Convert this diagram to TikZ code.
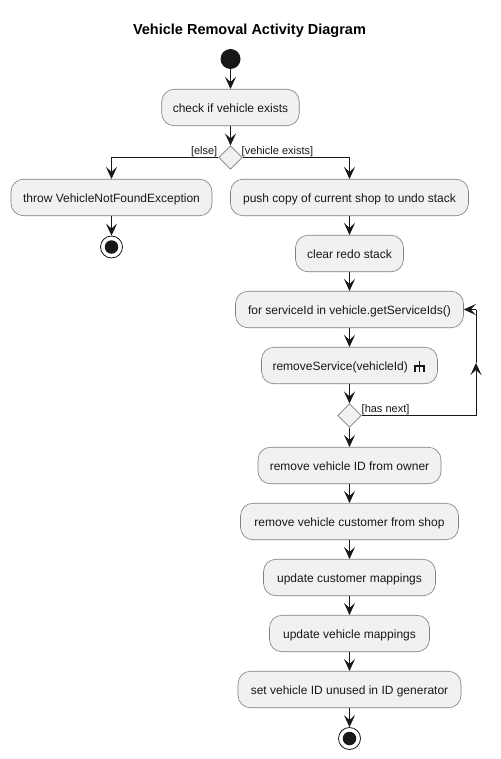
\documentclass[tikz,border=0pt]{standalone}
\usepackage{fontspec}
\setmainfont{Liberation Sans}
\usetikzlibrary{arrows.meta,shapes.geometric}
\definecolor{ink}{HTML}{181818}
\definecolor{boxfill}{HTML}{F1F1F1}
\definecolor{boxline}{HTML}{7F7F7F}
\tikzset{
  actbox/.style={draw=boxline,fill=boxfill,rounded corners=12.5pt,line width=0.6pt,minimum height=36.5pt,inner sep=0pt,text=ink,font=\fontsize{12}{14}\selectfont,text height=11pt,text depth=1.5pt},
  decbox/.style={diamond,draw=boxline,fill=boxfill,line width=0.6pt,minimum width=23.5pt,minimum height=23.5pt,inner sep=0pt},
  startdot/.style={circle,fill=ink,minimum size=20pt,inner sep=0pt},
  stopring/.style={circle,draw=ink,fill=white,line width=0.8pt,minimum size=22pt,inner sep=0pt},
  stopdot/.style={circle,fill=ink,minimum size=13.5pt,inner sep=0pt},
  flow/.style={draw=ink,line width=0.9pt,-{Stealth[length=12pt,width=11pt,inset=5pt]}},
  plainflow/.style={draw=ink,line width=0.9pt},
  guard/.style={font=\fontsize{11}{12}\selectfont,text=ink,inner sep=0pt},
}
\begin{document}
\begin{tikzpicture}[x=1pt,y=-1pt]
\useasboundingbox[fill=white] (0,0) rectangle (500,759);
\node[font=\bfseries\fontsize{14.5}{16}\selectfont,text=black] (title) at (249.5,30.5) {Vehicle Removal Activity Diagram};
\node[startdot] (start) at (230.5,59) {};
\node[actbox,minimum width=137.5pt] (check) at (230.5,107.5) {check if vehicle exists};
\node[decbox] (dec1) at (230.5,157.5) {};
\node[guard,anchor=south east] (elselab) at (217.5,156.5) {[else]};
\node[guard,anchor=south west] (existslab) at (241.5,156.5) {[vehicle exists]};
\node[actbox,minimum width=201pt] (throw) at (111.5,197.5) {throw VehicleNotFoundException};
\node[stopring] (stopa) at (111.5,247) {};
\node[stopdot] (stopadot) at (111.5,247) {};
\node[actbox,minimum width=238pt] (push) at (349.5,197.5) {push copy of current shop to undo stack};
\node[actbox,minimum width=108pt] (redo) at (349.5,253.5) {clear redo stack};
\node[actbox,minimum width=228pt] (loop) at (349.5,309.5) {for serviceId in vehicle.getServiceIds()};
\node[actbox,minimum width=176pt,text width=154pt,align=left] (svc) at (349.5,365.5) {removeService(vehicleId)};
\node[decbox] (dec2) at (349.5,415.5) {};
\node[guard,anchor=south west] (nextlab) at (361.5,415) {[has next]};
\node[actbox,minimum width=183pt] (owner) at (349.5,465.5) {remove vehicle ID from owner};
\node[actbox,minimum width=218pt] (cust) at (349.5,521.5) {remove vehicle customer from shop};
\node[actbox,minimum width=172pt] (cmap) at (349.5,577.5) {update customer mappings};
\node[actbox,minimum width=160pt] (vmap) at (349.5,633.5) {update vehicle mappings};
\node[actbox,minimum width=223pt] (idgen) at (349.5,689.5) {set vehicle ID unused in ID generator};
\node[stopring] (stopb) at (349.5,738.5) {};
\node[stopdot] (stopbdot) at (349.5,738.5) {};
% call-activity icon
\draw[ink,line width=1.6pt] (414,366) -- (424.5,366);
\draw[ink,line width=1.6pt] (419.5,361) -- (419.5,371.5);
\draw[ink,line width=1.6pt] (415,366) -- (415,371.5);
\draw[ink,line width=1.6pt] (424,366) -- (424,371.5);
% connectors
\draw[flow] (start) -- (check);
\draw[flow] (check) -- (dec1);
\draw[flow] (dec1.west) -| (throw.north);
\draw[flow] (dec1.east) -| (push.north);
\draw[flow] (throw) -- (stopa);
\draw[flow] (push) -- (redo);
\draw[flow] (redo) -- (loop);
\draw[flow] (loop) -- (svc);
\draw[flow] (svc) -- (dec2);
\draw[flow] (dec2) -- (owner);
\draw[flow] (owner) -- (cust);
\draw[flow] (cust) -- (cmap);
\draw[flow] (cmap) -- (vmap);
\draw[flow] (vmap) -- (idgen);
\draw[flow] (idgen) -- (stopb);
\coordinate (loopa) at (476,415.5);
\coordinate (loopm) at (476,363);
\coordinate (loopb) at (476,309.5);
\draw[flow] (dec2.east) -- (loopa) -- (loopm);
\draw[plainflow] (loopm) -- (loopb);
\draw[flow] (loopb) -- (loop.east);
\end{tikzpicture}
\end{document}
